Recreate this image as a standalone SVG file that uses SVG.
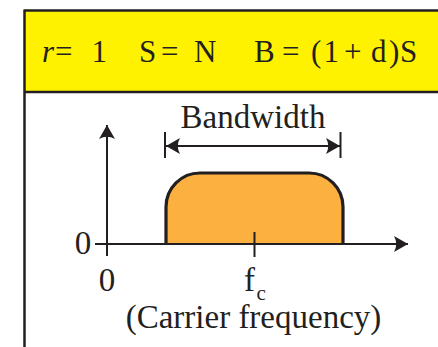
<svg xmlns="http://www.w3.org/2000/svg" width="438" height="347" viewBox="0 0 438 347">
<style>
.t{font-family:"Liberation Serif","Times New Roman",serif;fill:#231F20}
.ln{stroke:#231F20;stroke-width:2;fill:none}
</style>
<defs>
<marker id="ah" viewBox="0 0 14 16" refX="14" refY="8" markerWidth="14" markerHeight="16" markerUnits="userSpaceOnUse" orient="auto-start-reverse">
<path d="M14,8 L0,0 Q4.5,8 0,16 Z" fill="#231F20"/>
</marker>
</defs>
<rect width="438" height="347" fill="#FFFFFF"/>
<g id="header">
<rect x="24.5" y="10.5" width="420" height="81.5" fill="#FFF200"/>
<line x1="24.5" y1="10.5" x2="438" y2="10.5" stroke="#231F20" stroke-width="2.5"/>
<line x1="24.5" y1="92" x2="438" y2="92" stroke="#231F20" stroke-width="2.5"/>
<line x1="24.5" y1="9.5" x2="24.5" y2="347" stroke="#231F20" stroke-width="2.5"/>
<text class="t" font-size="31" y="62"><tspan x="42" font-style="italic">r</tspan><tspan x="55">=</tspan><tspan x="91.5">1</tspan><tspan x="139">S</tspan><tspan x="161">=</tspan><tspan x="194">N</tspan><tspan x="254">B</tspan><tspan x="282">=</tspan><tspan x="311">(</tspan><tspan x="323.5">1</tspan><tspan x="344">+</tspan><tspan x="371">d</tspan><tspan x="389">)</tspan><tspan x="400">S</tspan></text>
</g>
<g id="spectrum">
<path d="M166,244 L166,207 A34,34 0 0 1 200,173 L309,173 A34,34 0 0 1 343,207 L343,244 Z" fill="#FBB040"/>
<path d="M166,244 L166,207 A34,34 0 0 1 200,173 L309,173 A34,34 0 0 1 343,207 L343,244" fill="none" stroke="#231F20" stroke-width="3.2"/>
</g>
<g id="connectors">
<line class="ln" x1="95" y1="244" x2="408" y2="244" marker-end="url(#ah)"/>
<line class="ln" x1="107" y1="256" x2="107" y2="125" marker-end="url(#ah)"/>
<line class="ln" x1="254.5" y1="232" x2="254.5" y2="257"/>
<line class="ln" x1="166" y1="146" x2="340" y2="146" marker-start="url(#ah)" marker-end="url(#ah)"/>
<line class="ln" x1="165" y1="132" x2="165" y2="158"/>
<line class="ln" x1="340.5" y1="132" x2="340.5" y2="158"/>
</g>
<g id="labels">
<text class="t" font-size="33" x="253" y="128" text-anchor="middle">Bandwidth</text>
<text class="t" font-size="33" x="83" y="254" text-anchor="middle">0</text>
<text class="t" font-size="33" x="107" y="291" text-anchor="middle">0</text>
<text class="t" font-size="33" x="244" y="291">f</text>
<text class="t" font-size="21" x="256.5" y="300">c</text>
<text class="t" font-size="33" x="253.5" y="328" text-anchor="middle">(Carrier frequency)</text>
</g>
</svg>
